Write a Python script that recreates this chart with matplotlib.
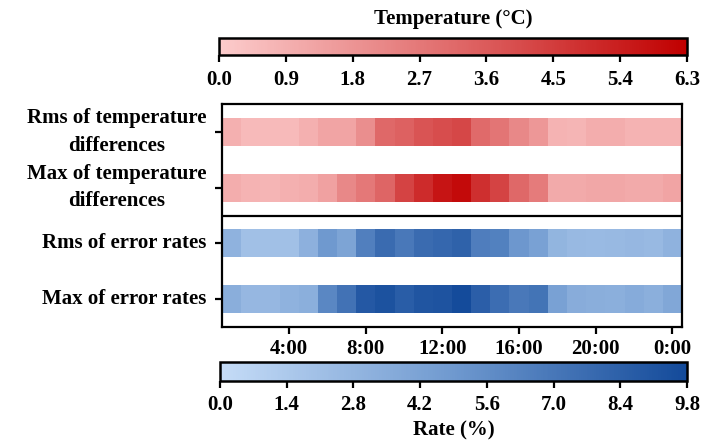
import numpy as np
import matplotlib
matplotlib.use("Agg")
import matplotlib.pyplot as plt
from matplotlib.colors import LinearSegmentedColormap, Normalize
from matplotlib.cm import ScalarMappable

plt.rcParams['font.family'] = ['Liberation Serif', 'DejaVu Serif']
plt.rcParams['font.weight'] = 'bold'

# ---- data ----
row_labels = ["Rms of temperature\ndifferences", "Max of temperature\ndifferences",
              "Rms of error rates", "Max of error rates"]
hour_tick_labels = ["4:00", "8:00", "12:00", "16:00", "20:00", "0:00"]
rms_temp = [0.9, 0.6, 0.6, 0.6, 0.9, 1.3, 1.3, 2.0, 3.2, 3.4, 3.8, 4.0,
            4.2, 3.15, 2.8, 2.2, 1.7, 0.8, 0.75, 1.0, 1.0, 0.8, 0.8, 0.8]
max_temp = [1.0, 0.8, 0.75, 0.9, 1.0, 1.4, 2.2, 2.7, 3.3, 4.3, 5.0, 5.7,
            6.0, 4.9, 4.3, 3.2, 2.6, 1.1, 1.1, 1.2, 1.2, 1.1, 1.1, 1.3]
rms_err = [3.1, 2.1, 2.1, 2.1, 3.2, 4.9, 4.1, 6.5, 7.7, 6.9, 7.7, 8.0,
           8.3, 6.6, 6.4, 5.0, 4.3, 2.9, 2.6, 2.5, 2.6, 2.7, 2.6, 3.1]
max_err = [3.4, 2.7, 2.7, 3.1, 3.3, 6.0, 7.3, 8.9, 9.3, 8.6, 9.1, 9.2,
           9.7, 8.5, 7.6, 6.9, 7.2, 4.3, 3.5, 3.4, 3.3, 3.6, 3.3, 3.9]
temp_ticks = [0.0, 0.9, 1.8, 2.7, 3.6, 4.5, 5.4, 6.3]
rate_ticks = [0.0, 1.4, 2.8, 4.2, 5.6, 7.0, 8.4, 9.8]

W, H = 703, 441
FS = 15
fig = plt.figure(figsize=(W / 100, H / 100), dpi=100)

reds = LinearSegmentedColormap.from_list("r", ["#fccccc", "#e06a6a", "#c00000"])
blues = LinearSegmentedColormap.from_list("b", ["#c5dcf7", "#6f99cf", "#134a9a"])
tnorm = Normalize(temp_ticks[0], temp_ticks[-1])
rnorm = Normalize(rate_ticks[0], rate_ticks[-1])

def fx(px): return px / W
def fy(py): return 1 - py / H

ax = fig.add_axes([fx(222), fy(327), (682 - 222) / W, (327 - 104) / H])
n = len(rms_temp)
xedges = np.arange(n + 1)
series = [(rms_temp, reds, tnorm), (max_temp, reds, tnorm),
          (rms_err, blues, rnorm), (max_err, blues, rnorm)]
for i, (vals, cm, nm) in enumerate(series):
    ax.pcolormesh(xedges, [i - 0.25, i + 0.25], np.array(vals)[None, :],
                  cmap=cm, norm=nm, shading='flat')
ax.set_xlim(0, n)
ax.set_ylim(3.5, -0.5)
ax.axhline(1.5, color='black', lw=1.6)
ax.set_yticks(range(4))
ax.set_yticklabels(row_labels, fontsize=FS, fontweight='bold', va='center')
for t in ax.get_yticklabels():
    t.set_multialignment('center')
    t.set_linespacing(1.5)
ax.set_xticks(np.arange(3.5, n, 4))
ax.set_xticklabels(hour_tick_labels, fontsize=FS, fontweight='bold')
ax.tick_params(direction='out', length=5, width=1.6)
ax.tick_params(axis='x', pad=4)
ax.tick_params(axis='y', pad=6)
for s in ax.spines.values():
    s.set_linewidth(1.6)

# top colorbar
cax1 = fig.add_axes([fx(219), fy(55), (687 - 219) / W, 17 / H])
cb1 = fig.colorbar(ScalarMappable(norm=tnorm, cmap=reds), cax=cax1, orientation='horizontal')
cb1.set_ticks(temp_ticks)
cb1.set_ticklabels([f"{v:.1f}" for v in temp_ticks])
cax1.tick_params(direction='out', length=5, width=1.6, labelsize=FS, pad=6)
cb1.outline.set_linewidth(1.8)
cax1.set_title("Temperature (°C)", fontsize=FS, fontweight='bold', pad=10)

# bottom colorbar
cax2 = fig.add_axes([fx(220), fy(381), (687 - 220) / W, 19 / H])
cb2 = fig.colorbar(ScalarMappable(norm=rnorm, cmap=blues), cax=cax2, orientation='horizontal')
cb2.set_ticks(rate_ticks)
cb2.set_ticklabels([f"{v:.1f}" for v in rate_ticks])
cax2.tick_params(direction='out', length=5, width=1.6, labelsize=FS, pad=5)
cb2.outline.set_linewidth(1.8)
cax2.set_xlabel("Rate (%)", fontsize=FS, fontweight='bold', labelpad=4)

fig.savefig("out.png", dpi=100)
